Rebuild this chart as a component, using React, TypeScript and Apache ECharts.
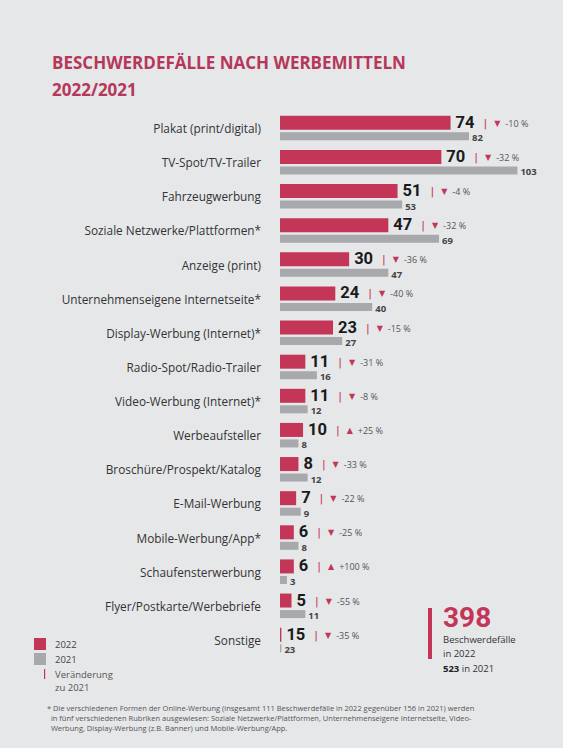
import React, { useEffect, useRef } from "react";
import * as echarts from "echarts";

const categories = [
  "Plakat (print/digital)",
  "TV-Spot/TV-Trailer",
  "Fahrzeugwerbung",
  "Soziale Netzwerke/Plattformen*",
  "Anzeige (print)",
  "Unternehmenseigene Internetseite*",
  "Display-Werbung (Internet)*",
  "Radio-Spot/Radio-Trailer",
  "Video-Werbung (Internet)*",
  "Werbeaufsteller",
  "Broschüre/Prospekt/Katalog",
  "E-Mail-Werbung",
  "Mobile-Werbung/App*",
  "Schaufensterwerbung",
  "Flyer/Postkarte/Werbebriefe",
  "Sonstige",
];
const values2022 = [74, 70, 51, 47, 30, 24, 23, 11, 11, 10, 8, 7, 6, 6, 5, 15];
const values2021 = [82, 103, 53, 69, 47, 40, 27, 16, 12, 8, 12, 9, 8, 3, 11, 23];
const changes = [
  "-10 %", "-32 %", "-4 %", "-32 %", "-36 %", "-40 %", "-15 %", "-31 %",
  "-8 %", "+25 %", "-33 %", "-22 %", "-25 %", "+100 %", "-55 %", "-35 %",
];
// categories the original draws only as a short stub instead of a full bar
const stubCategories = ["Sonstige"];
const total2022 = 398;
const total2021 = 523;

const RED = "#c43658";
const GRAY = "#a8a9ac";
const BG = "#e6e7e9";
const FONT = "'Open Sans', 'Noto Sans', sans-serif";
const NUM_FONT = "Roboto, 'Open Sans', sans-serif";

export default function App() {
  const ref = useRef<HTMLDivElement>(null);
  useEffect(() => {
    if (!ref.current) return;
    const chart = echarts.init(ref.current, undefined, { renderer: "svg" });
    const STUB = 0.6;
    const d2022 = values2022.map((v, i) =>
      stubCategories.includes(categories[i]) ? STUB : v
    );
    const d2021 = values2021.map((v, i) =>
      stubCategories.includes(categories[i]) ? STUB : v
    );
    chart.setOption({
      animation: false,
      backgroundColor: BG,
      textStyle: { fontFamily: FONT },
      title: {
        text: "BESCHWERDEFÄLLE NACH WERBEMITTELN\n2022/2021",
        left: 47,
        top: 44,
        textStyle: {
          fontFamily: FONT,
          fontSize: 17,
          fontWeight: "bold",
          color: "#b5375a",
          lineHeight: 27,
        },
      },
      legend: {
        orient: "vertical",
        left: 34,
        top: 638,
        padding: 0,
        itemWidth: 12,
        itemHeight: 12,
        itemGap: 3,
        icon: "rect",
        data: ["2022", "2021"],
        textStyle: { fontFamily: FONT, fontSize: 9.5, color: "#444", padding: [0, 0, 0, 4] },
      },
      grid: { left: 280, top: 111, height: 546, width: 276.6 },
      xAxis: { type: "value", min: 0, max: 120, show: false },
      yAxis: {
        type: "category",
        data: categories,
        inverse: true,
        axisLine: { show: false },
        axisTick: { show: false },
        axisLabel: { margin: 19, fontSize: 11.8, color: "#333", fontFamily: FONT },
      },
      series: [
        {
          name: "2022",
          type: "bar",
          data: d2022,
          barWidth: 14,
          barGap: "18%",
          itemStyle: { color: RED },
          label: {
            show: true,
            position: "right",
            distance: 5,
            offset: [0, -0.5],
            formatter: (p: any) => {
              const i = p.dataIndex;
              const up = changes[i].startsWith("+");
              return `{v|${values2022[i]}}{sep||}{tri|${up ? "▲" : "▼"}}{pct|${changes[i]}}`;
            },
            rich: {
              v: { fontSize: 16.5, lineHeight: 13, fontWeight: "bold", color: "#1a1a1a", fontFamily: NUM_FONT },
              sep: { fontSize: 11, lineHeight: 11, color: RED, padding: [2, 7, 0, 9], fontFamily: "'DejaVu Sans'" },
              tri: { fontSize: 8, lineHeight: 10, color: RED, padding: [2, 5, 0, 0], fontFamily: "'DejaVu Sans'" },
              pct: { fontSize: 9, lineHeight: 10, color: "#555", fontFamily: FONT, padding: [2, 0, 0, 0] },
            },
          },
        },
        {
          name: "2021",
          type: "bar",
          data: d2021,
          barWidth: 8,
          itemStyle: { color: GRAY },
          label: {
            show: true,
            position: "right",
            distance: 3,
            offset: [0, 1.5],
            formatter: (p: any) => `${values2021[p.dataIndex]}`,
            fontSize: 9.5,
            lineHeight: 9,
            fontWeight: "bold",
            color: "#444",
            fontFamily: FONT,
          },
        },
      ],
      graphic: [
        { type: "rect", shape: { x: 44, y: 669, width: 1.2, height: 10 }, style: { fill: RED } },
        {
          type: "text",
          x: 55,
          y: 668,
          style: { text: "Veränderung\nzu 2021", fontSize: 9.5, lineHeight: 13, fill: "#555", fontFamily: FONT },
        },
        { type: "rect", shape: { x: 428, y: 608, width: 4, height: 51 }, style: { fill: RED } },
        {
          type: "text",
          x: 443,
          y: 605,
          style: { text: String(total2022), fontSize: 28, lineHeight: 25, fontWeight: "bold", fill: RED, fontFamily: NUM_FONT },
        },
        {
          type: "text",
          x: 443,
          y: 633,
          style: { text: "Beschwerdefälle\nin 2022", fontSize: 9.5, lineHeight: 13.5, fill: "#333", fontFamily: FONT },
        },
        {
          type: "text",
          x: 443,
          y: 663,
          style: {
            text: `{b|${total2021}} in 2021`,
            rich: {
              b: { fontSize: 9.5, fontWeight: "bold", fill: "#222", fontFamily: FONT },
            },
            fontSize: 9.5,
            fill: "#333",
            fontFamily: FONT,
          },
        },
        {
          type: "text",
          x: 47,
          y: 703,
          style: {
            text:
              "* Die verschiedenen Formen der Online-Werbung (insgesamt 111 Beschwerdefälle in 2022 gegenüber 156 in 2021) werden\n" +
              "  in fünf verschiedenen Rubriken ausgewiesen: Soziale Netzwerke/Plattformen, Unternehmenseigene Internetseite, Video-\n" +
              "  Werbung, Display-Werbung (z.B. Banner) und Mobile-Werbung/App.",
            fontSize: 7.5,
            lineHeight: 10,
            fill: "#555",
            fontFamily: FONT,
          },
        },
      ],
    });
    return () => chart.dispose();
  }, []);
  return (
    <div
      ref={ref}
      style={{ position: "fixed", left: 0, top: 0, width: 563, height: 748, background: BG }}
    />
  );
}
